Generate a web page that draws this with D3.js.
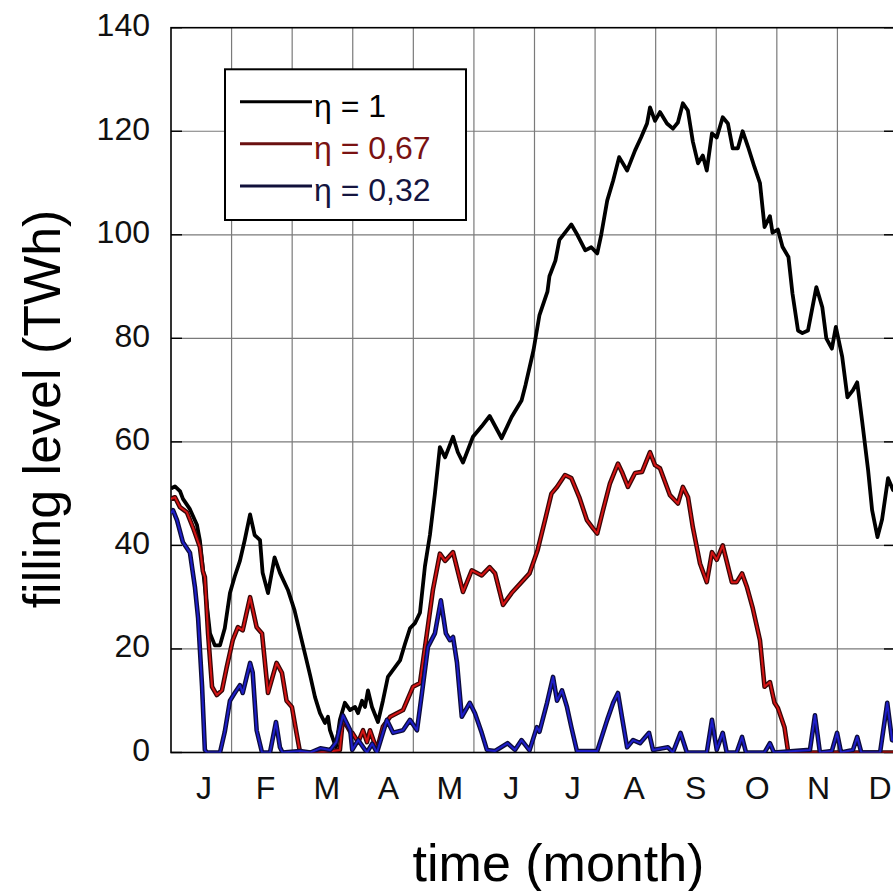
<!DOCTYPE html>
<html>
<head>
<meta charset="utf-8">
<script src="https://cdn.jsdelivr.net/npm/d3@7"></script>
<style>
  html, body { margin: 0; padding: 0; background: #fff; }
  svg { display: block; font-family: "Liberation Sans", Arial, sans-serif; }
</style>
</head>
<body>
<svg id="chart" width="893" height="891"></svg>
<script>
// ---------- data ----------
const monthLabels = ["J","F","M","A","M","J","J","A","S","O","N","D"];
const yTicks = [0, 20, 40, 60, 80, 100, 120, 140];
const seriesNames = ["η = 1", "η = 0,67", "η = 0,32"];

// [day of year, filling level TWh]
const eta100 = [[0,51],[2,51.4],[4.5,50.5],[6,49],[9.5,47],[13,44],[14.5,41],[17,32],[19.6,23],[22,20.7],[24.6,20.7],[27,24],[29.6,30.8],[32,34],[34.6,37],[37,41],[39.7,46],[42,42],[44.7,41],[46,34.7],[48.7,30.8],[52,37.7],[54.7,34.7],[58.7,31.4],[62,27.5],[64.8,23],[67.3,19],[69.8,15],[72.3,10.7],[74.8,7.6],[77.3,5.7],[78.8,6.9],[79.8,4.3],[82.8,1],[84.8,6.3],[87.3,9.6],[89.9,8.2],[92.4,8.8],[93.9,7.6],[95.9,10],[97.4,8.8],[98.9,12],[100.9,8.8],[103.9,5.9],[106.4,10],[108.9,14.6],[112.5,16.5],[115,17.8],[117.5,21],[120,24],[122.5,25],[125,27],[127.5,36],[130,42],[132.5,50],[135,59],[137.6,57],[141.6,61],[144,58],[146.6,56],[151.6,61],[156,63],[160,65],[166,60.7],[171,64.8],[176,68],[178,71],[182,77.7],[185,84.5],[189,89],[190,92],[193,95],[195,99],[199,101],[201,102],[204,100],[208,97],[211,97.6],[214,96.4],[216,100],[219,106.6],[222,110.5],[225,115],[229,112.4],[233,116.3],[236,118.8],[239,121.5],[240.5,124.6],[243,122],[245.5,123.7],[249,121.5],[252,120.5],[254.5,121.7],[257,125.4],[259.5,124],[262,118],[264.6,113.8],[267,115.3],[269,112.4],[271.6,119.6],[274,118.8],[277,122.7],[279.6,121.5],[282,116.7],[284.6,116.7],[287,120],[289.7,117],[293,113],[295.7,110],[298,101.5],[300.7,103.6],[302,100.4],[304.7,101],[307,97.7],[310,95.7],[312,88.7],[314.8,81.5],[317,81],[319.8,81.5],[324,89.9],[327,86],[329,80],[331.8,78],[333.8,82.2],[337,76.4],[339.6,68.6],[342.4,70],[344.5,71.5],[347,64],[350,54.5],[352,46.8],[354.7,41.6],[357,45],[360,53],[362.5,50.7],[365,50]];

const eta067 = [[0,49],[2,49.3],[4.5,47.4],[8,46.4],[11,43.5],[14.5,39.7],[16,35],[17,33.9],[18.6,23],[20.6,12.7],[23,11.1],[25.6,12],[28,16.5],[31,21.7],[33.6,24.2],[36,23.6],[39.7,30],[43,24.2],[45.7,23],[48.7,11.5],[53,17.3],[55.7,15.4],[58,10],[60.7,8.8],[63,3.8],[64.8,0],[75,0],[84.8,0.5],[86.3,6.5],[90,4],[91,3.8],[94,2],[96.4,4.3],[98.4,2],[99.9,4.3],[102,2],[103.4,0.5],[106.4,5],[110,6.9],[116.5,8.2],[121.5,12.7],[125,13.4],[128.5,23],[131.5,31.4],[135,38.4],[137.6,37],[141.6,38.7],[146.6,31],[151,35.2],[156,34.2],[160,35.8],[162.7,34.6],[166.7,28.5],[171,30.8],[176,32.9],[180,34.6],[184,39],[187.8,44.9],[191,50],[193.8,51.3],[197.8,53.6],[201,53],[205,49.3],[208.8,44.9],[211.9,43.3],[214,42.3],[216.9,46.8],[220.4,52],[224.4,55.8],[226.4,54.2],[229.4,51.3],[233,54],[236.5,54.2],[240.5,58],[243,55.5],[245.5,54.9],[250.5,49.7],[254.5,48.1],[257,51.3],[259.6,49.3],[262,43.5],[265.6,36.5],[269,32.9],[271.6,38.7],[274,37.2],[277,40],[281.6,32.9],[284,32.9],[286.7,34.6],[289.2,31.9],[292,28],[295.7,21.7],[298,12.7],[300.7,13.6],[303,9.6],[304.7,8.6],[308,4.9],[309.7,0.5],[310.8,0],[365,0]];

const eta032 = [[0,46.2],[1,46.8],[3,44.9],[6,40.6],[9.5,38.6],[12,32],[13.6,26],[15.6,12.7],[17,0.5],[18,0],[24.6,0],[27,4],[29.6,10],[32,11.5],[34.6,13],[36,11.5],[39.7,17.3],[41,15.5],[43,4.3],[45.7,0],[49.7,0],[52.7,5.9],[54.7,1],[56,0],[64.8,0.3],[70,0],[75,0.8],[80,0.5],[83,2],[86.3,7.2],[90,4.3],[91,0.5],[94,2.4],[98.4,0],[101,1.7],[103.4,0],[108.4,6.3],[111.5,3.8],[116.5,4.3],[120,6.3],[123.5,4.3],[126,11.5],[129,20.4],[132.5,23],[135.5,29.4],[138,23],[140,21.7],[141.6,22.3],[143.6,17.3],[146,6.9],[150,9.6],[152.6,7.6],[156,3.8],[158.6,0.5],[162.7,0.3],[169,1.8],[172.7,0.5],[176,2.4],[180,0.4],[183.7,4.9],[185,4],[188.8,9.6],[191.8,14.6],[193.8,10],[196.3,12],[198.8,8.8],[201,4.9],[203.8,0.3],[214,0.3],[219,6.3],[222,9.6],[224.4,11.5],[226.4,6.9],[229,1],[232,2.4],[235.5,1.8],[240,3.8],[242,0.5],[249.5,1],[252,0],[255.8,3.8],[259,0],[269,0],[271.6,6.3],[274,0.5],[277,3.8],[279,0],[284,0],[286.7,3],[288.7,0],[298,0],[300.7,1.8],[302.7,0],[320.8,0.5],[323.3,7.2],[325.8,0],[331.8,0.3],[334.4,3.8],[336.4,0],[342.4,0.5],[344.5,3],[346.6,0],[356,0],[359.6,9.6],[362,2.4],[365,2]];

// ---------- layout ----------
const svg = d3.select("#chart");
const plotL = 171, plotR = 898, plotT = 27.7, plotB = 752.5;

const x = d3.scaleLinear().domain([0, 365]).range([plotL, plotR]);
const y = d3.scaleLinear().domain([0, 140]).range([plotB, plotT]);
const xLabel = d3.scalePoint().domain(d3.range(12)).range([204, 880]);

svg.append("defs").append("clipPath").attr("id", "plotclip")
  .append("rect").attr("x", plotL).attr("y", plotT).attr("width", plotR - plotL).attr("height", plotB - plotT);

// grid
const grid = svg.append("g");
grid.selectAll("line.h").data(yTicks.filter(d => d > 0 && d < 140)).enter().append("line")
  .attr("x1", plotL).attr("x2", plotR).attr("y1", d => y(d)).attr("y2", d => y(d))
  .attr("stroke", "#7a7a7a").attr("stroke-width", 1.2);
grid.selectAll("line.v").data(d3.range(1, 12)).enter().append("line")
  .attr("x1", d => x(d * 365 / 12)).attr("x2", d => x(d * 365 / 12))
  .attr("y1", plotT).attr("y2", plotB)
  .attr("stroke", "#7a7a7a").attr("stroke-width", 1.2);

// inward ticks left and right
const ticks = svg.append("g");
ticks.selectAll("line.l").data(yTicks).enter().append("line")
  .attr("x1", plotL).attr("x2", plotL + 11).attr("y1", d => y(d)).attr("y2", d => y(d))
  .attr("stroke", "#000").attr("stroke-width", 1.4);
ticks.selectAll("line.r").data(yTicks).enter().append("line")
  .attr("x1", plotR - 14).attr("x2", plotR).attr("y1", d => y(d)).attr("y2", d => y(d))
  .attr("stroke", "#000").attr("stroke-width", 1.4);

// frame
svg.append("rect").attr("x", plotL).attr("y", plotT).attr("width", plotR - plotL).attr("height", plotB - plotT)
  .attr("fill", "none").attr("stroke", "#000").attr("stroke-width", 1.6);

// series
const line = d3.line().x(d => x(d[0])).y(d => y(d[1])).curve(d3.curveLinear);
const plot = svg.append("g").attr("clip-path", "url(#plotclip)");

plot.append("path").datum(eta100).attr("d", line)
  .attr("fill", "none").attr("stroke", "#000").attr("stroke-width", 3.8)
  .attr("stroke-linejoin", "round");

plot.append("path").datum(eta067).attr("d", line)
  .attr("fill", "none").attr("stroke", "#3a0606").attr("stroke-width", 4.6).attr("stroke-linejoin", "round");
plot.append("path").datum(eta067).attr("d", line)
  .attr("fill", "none").attr("stroke", "#d41414").attr("stroke-width", 2).attr("stroke-linejoin", "round");

plot.append("path").datum(eta032).attr("d", line)
  .attr("fill", "none").attr("stroke", "#0c0c3c").attr("stroke-width", 4.6).attr("stroke-linejoin", "round");
plot.append("path").datum(eta032).attr("d", line)
  .attr("fill", "none").attr("stroke", "#1e1ec8").attr("stroke-width", 2).attr("stroke-linejoin", "round");

// y tick labels
svg.append("g").selectAll("text").data(yTicks).enter().append("text")
  .attr("x", 150).attr("y", d => y(d) + 8.5)
  .attr("text-anchor", "end").attr("font-size", 32).attr("fill", "#111")
  .text(d => d);

// month labels
svg.append("g").selectAll("text").data(monthLabels).enter().append("text")
  .attr("x", (d, i) => xLabel(i)).attr("y", 799)
  .attr("text-anchor", "middle").attr("font-size", 32).attr("fill", "#111")
  .text(d => d);

// axis titles
svg.append("text").attr("x", 558.5).attr("y", 881).attr("text-anchor", "middle")
  .attr("font-size", 52).attr("fill", "#000").text("time (month)");
svg.append("text").attr("transform", "translate(60,409) rotate(-90)").attr("text-anchor", "middle")
  .attr("font-size", 52).attr("fill", "#000").text("filling level (TWh)");

// legend
const legendColors = ["#000000", "#6a1010", "#10103a"];
const textColors = ["#000000", "#7a1212", "#15153f"];
const lg = svg.append("g");
lg.append("rect").attr("x", 225).attr("y", 69.3).attr("width", 241).attr("height", 150.7)
  .attr("fill", "#fff").attr("stroke", "#000").attr("stroke-width", 2);
const ly = d3.scalePoint().domain(d3.range(3)).range([101.7, 186]);
lg.selectAll("line").data(seriesNames).enter().append("line")
  .attr("x1", 240).attr("x2", 312).attr("y1", (d, i) => ly(i)).attr("y2", (d, i) => ly(i))
  .attr("stroke", (d, i) => legendColors[i]).attr("stroke-width", 3);
lg.selectAll("text").data(seriesNames).enter().append("text")
  .attr("x", 314).attr("y", (d, i) => ly(i) + 15)
  .attr("font-size", 32).attr("fill", (d, i) => textColors[i])
  .text(d => d);
</script>
</body>
</html>
